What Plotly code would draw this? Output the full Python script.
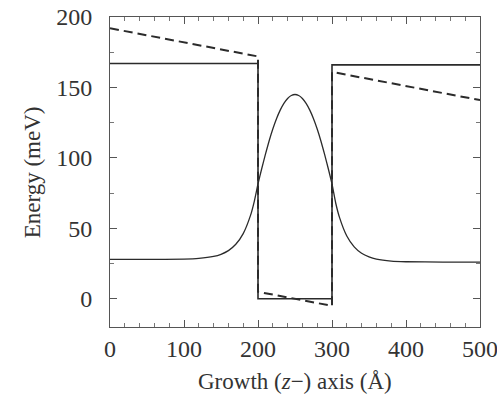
import plotly.graph_objects as go

# Potential profile (solid): flat band
pot_z = [0, 200, 200, 300, 300, 500]
pot_e = [167, 167, 0, 0, 166, 166]

# Potential profile under field (dashed)
field_z = [0, 200, 200, 300, 300, 500]
field_e = [192, 172, 5, -5, 161, 141]

# Wavefunction (plotted offset)
wf_z = [0, 50, 100, 120, 140, 150, 160, 170, 180, 190, 195, 200,
        205, 210, 215, 220, 225, 230, 235, 240, 245, 250,
        255, 260, 265, 270, 275, 280, 285, 290, 295, 300,
        305, 310, 320, 330, 340, 350, 360, 380, 400, 450, 500]
wf_e = [28, 28, 28.2, 28.7, 30.1, 31.6, 34.2, 38.7, 46.3, 59.4, 69.2, 81.5,
        92.3, 102.5, 112.0, 120.5, 127.8, 133.9, 138.7, 142.2, 144.3, 145,
        144.3, 142.2, 138.7, 133.9, 127.8, 120.5, 112.0, 102.5, 92.3, 81.5,
        68, 58, 44.6, 36.9, 32.3, 29.7, 28.1, 26.7, 26.3, 26.1, 26]

x_ticks = [0, 100, 200, 300, 400, 500]
y_ticks = [0, 50, 100, 150, 200]

LINE = "#2b2b2b"
FONT = "Liberation Serif"

fig = go.Figure()
fig.add_trace(go.Scatter(x=wf_z, y=wf_e, mode="lines",
                         line=dict(color=LINE, width=1.3, shape="spline", smoothing=0.6)))
fig.add_trace(go.Scatter(x=pot_z, y=pot_e, mode="lines",
                         line=dict(color=LINE, width=1.6)))
fig.add_trace(go.Scatter(x=field_z, y=field_e, mode="lines",
                         line=dict(color=LINE, width=2.0, dash="9px,5px")))

axis_common = dict(
    showline=True, linecolor="#555", linewidth=1, mirror="allticks",
    ticks="inside", ticklen=7, tickcolor="#555", tickwidth=1,
    showgrid=False, zeroline=False, ticklabeloverflow="allow", automargin=False,
    tickfont=dict(family=FONT, size=24, color="#333"),
)

fig.update_xaxes(range=[0, 500], tickvals=x_ticks, ticklabelstandoff=0,
                 minor=dict(dtick=20, ticks="inside", ticklen=4, tickcolor="#777", tickwidth=1),
                 **axis_common)
fig.update_yaxes(range=[-20, 200], tickvals=y_ticks, ticklabelstandoff=12,
                 minor=dict(dtick=25, ticks="inside", ticklen=4, tickcolor="#777", tickwidth=1),
                 **axis_common)

fig.add_annotation(text="Growth (<i>z</i>−) axis (Å)", xref="paper", yref="paper",
                   x=0.5, y=-0.128, yanchor="top", showarrow=False,
                   font=dict(family=FONT, size=23, color="#333"))
fig.add_annotation(text="Energy (meV)", xref="paper", yref="paper",
                   x=-0.21, y=0.5, textangle=-90, showarrow=False,
                   xanchor="center",
                   font=dict(family=FONT, size=23, color="#333"))

fig.update_layout(
    width=497, height=397,
    margin=dict(l=110, r=17, t=17, b=70),
    plot_bgcolor="white", paper_bgcolor="white",
    showlegend=False,
)

fig.write_html("out.html")
